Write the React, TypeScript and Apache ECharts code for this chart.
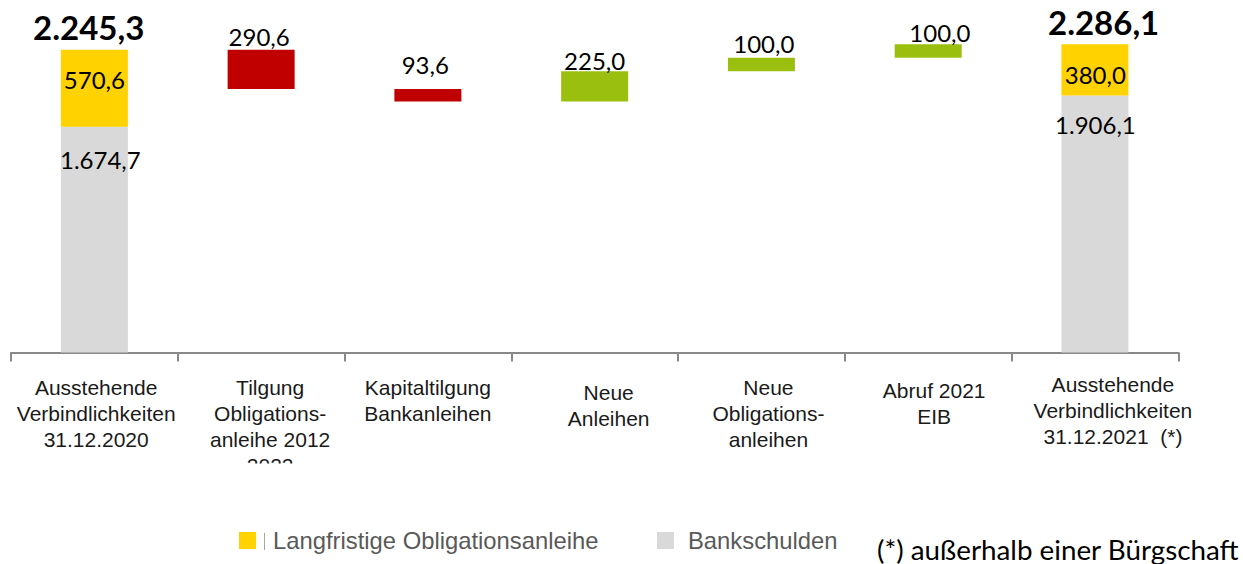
import React, { useEffect, useRef } from 'react';
import * as echarts from 'echarts';

const categories = [
  'Ausstehende\nVerbindlichkeiten\n31.12.2020',
  'Tilgung\nObligations-\nanleihe 2012\n2022',
  'Kapitaltilgung\nBankanleihen',
  'Neue\nAnleihen',
  'Neue\nObligations-\nanleihen',
  'Abruf 2021\nEIB',
  'Ausstehende\nVerbindlichkeiten\n31.12.2021  (*)',
];

const bankschulden = [1674.7, null, null, null, null, null, 1906.1];
const obligationsanleihe = [570.6, null, null, null, null, null, 380.0];
const decreases = [null, 290.6, 93.6, null, null, null, null];
const increases = [null, null, null, 225.0, 100.0, 100.0, null];
const totals = [2245.3, null, null, null, null, null, 2286.1];

// style-only settings (label nudges and axis label shifts, in px)
const changeLabelOffsets: (number[] | null)[] = [null, [-2, -1], [-2.6, -13], [0, 1.2], [2.4, -2], [11.7, 0.5], null];
const grayLabelOffsets: (number[] | null)[] = [[6, 21], null, null, null, null, null, [0.5, 16.5]];
const yellowLabelOffsets: (number[] | null)[] = [[0, -8.4], null, null, null, null, null, [0.4, 4.7]];
const totalLabelOffsets: (number[] | null)[] = [[-5.7, -22.8], null, null, null, null, null, [8.7, -22]];
const axisLabelShift = [[1.8, 3], [9, 3], [0, 3], [14, 8], [7, 3], [6, 6], [18, 0]];

const YELLOW = '#FFD200';
const GRAY = '#D9D9D9';
const RED = '#C00000';
const GREEN = '#9BBF0F';

function fmtDe(v: number): string {
  const [i, d] = v.toFixed(1).split('.');
  return i.replace(/\B(?=(\d{3})+(?!\d))/g, '.') + ',' + d;
}

export default function App() {
  const ref = useRef<HTMLDivElement>(null);

  useEffect(() => {
    if (!ref.current) return;
    const chart = echarts.init(ref.current, null, { renderer: 'svg' });

    let running = totals[0] as number;
    const base = categories.map((_, i) => {
      const dec = decreases[i];
      const inc = increases[i];
      if (dec != null) {
        running -= dec;
        return running;
      }
      if (inc != null) {
        const b = running;
        running += inc;
        return b;
      }
      return 0;
    });

    const numLabel = {
      show: true,
      fontFamily: 'Lato',
      fontSize: 24,
      lineHeight: 24,
      color: '#000',
      textBorderWidth: 0,
      formatter: (p: any) => fmtDe(p.value),
    };

    const mk = (arr: (number | null)[], offs: (number[] | null)[]) =>
      arr.map((v, i) =>
        v == null ? '-' : offs[i] ? { value: v, label: { offset: offs[i] } } : v
      );

    const option: any = {
      animation: false,
      grid: { left: 11, right: 64.7, top: 15.5, bottom: 211.5 },
      legend: [
        {
          data: ['Langfristige Obligationsanleihe'],
          left: 234,
          top: 523.5,
          icon: 'rect',
          itemWidth: 17,
          itemHeight: 17,
          textStyle: { fontFamily: 'Liberation Sans', fontSize: 23.8, color: '#595959', padding: [0, 0, 0, 12] },
          selectedMode: false,
        },
        {
          data: ['Bankschulden'],
          left: 652,
          top: 523.5,
          icon: 'rect',
          itemWidth: 17,
          itemHeight: 17,
          textStyle: { fontFamily: 'Liberation Sans', fontSize: 23.8, color: '#595959', padding: [0, 0, 0, 9] },
          selectedMode: false,
        },
      ],
      xAxis: {
        type: 'category',
        data: categories.map((c, i) => ({
          value: c,
          textStyle: { padding: [axisLabelShift[i][1], 0, 0, axisLabelShift[i][0] * 2] },
        })),
        axisLine: { lineStyle: { color: '#898989', width: 2 } },
        axisTick: { show: true, length: 9, lineStyle: { color: '#898989', width: 2 } },
        axisLabel: {
          interval: 0,
          margin: 19,
          fontFamily: 'Liberation Sans',
          fontSize: 21,
          lineHeight: 26,
          color: '#1a1a1a',
        },
      },
      yAxis: {
        type: 'value',
        min: 0,
        max: 2500,
        show: false,
        splitLine: { show: false },
      },
      graphic: [
        { type: 'rect', z: 100, shape: { x: 195, y: 463.5, width: 140, height: 30 }, style: { fill: '#fff' } },
        { type: 'line', z: 100, shape: { x1: 264.5, y1: 533, x2: 264.5, y2: 550 }, style: { stroke: '#a6a6a6', lineWidth: 1 } },
        {
          type: 'text',
          z: 100,
          x: 877,
          y: 549,
          style: {
            text: '(*) außerhalb einer Bürgschaft',
            fontFamily: 'Lato',
            fontSize: 27.8,
            fill: '#000',
            verticalAlign: 'middle',
            textAlign: 'left',
          },
        },
      ],
      series: [
        {
          name: 'base',
          type: 'bar',
          stack: 'w',
          barWidth: 67,
          itemStyle: { color: 'transparent' },
          data: base,
          silent: true,
        },
        {
          name: 'Bankschulden',
          type: 'bar',
          stack: 'w',
          barWidth: 67,
          itemStyle: { color: GRAY },
          label: { ...numLabel, position: 'insideTop', distance: 0 },
          data: mk(bankschulden, grayLabelOffsets),
        },
        {
          name: 'Langfristige Obligationsanleihe',
          type: 'bar',
          stack: 'w',
          barWidth: 67,
          itemStyle: { color: YELLOW },
          label: { ...numLabel, position: 'inside' },
          data: mk(obligationsanleihe, yellowLabelOffsets),
        },
        {
          name: 'Tilgung',
          type: 'bar',
          stack: 'w',
          barWidth: 67,
          itemStyle: { color: RED },
          label: { ...numLabel, position: 'top', distance: 0 },
          data: mk(decreases, changeLabelOffsets),
        },
        {
          name: 'Zugang',
          type: 'bar',
          stack: 'w',
          barWidth: 67,
          itemStyle: { color: GREEN },
          label: { ...numLabel, position: 'top', distance: 0 },
          data: mk(increases, changeLabelOffsets),
        },
        {
          name: 'Summe',
          type: 'scatter',
          symbolSize: 0,
          itemStyle: { opacity: 1 },
          label: {
            show: true,
            position: 'inside',
            fontFamily: 'Lato',
            fontWeight: 'bold',
            fontSize: 33,
            lineHeight: 33,
            color: '#000',
            opacity: 1,
            textBorderWidth: 0,
            formatter: (p: any) => fmtDe(Array.isArray(p.value) ? p.value[1] : p.value),
          },
          data: mk(totals, totalLabelOffsets),
          z: 10,
        },
      ],
    };

    chart.setOption(option);
    return () => chart.dispose();
  }, []);

  return (
    <div
      ref={ref}
      style={{ position: 'fixed', left: 0, top: 0, width: 1243, height: 564, background: '#fff' }}
    />
  );
}
